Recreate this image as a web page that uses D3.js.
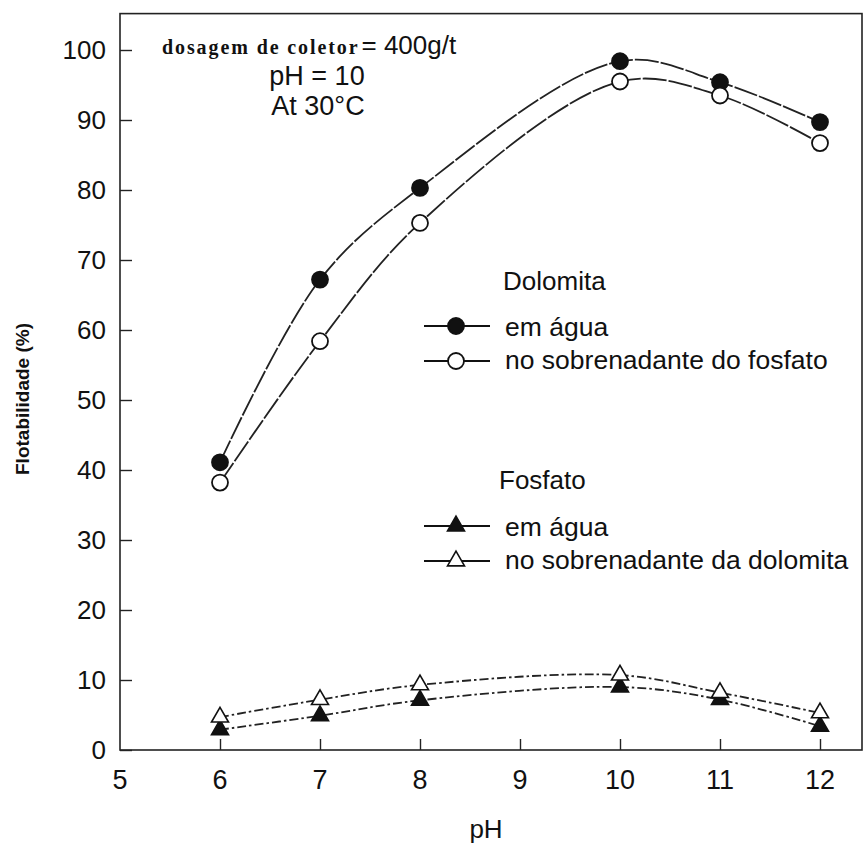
<!DOCTYPE html>
<html><head><meta charset="utf-8">
<script src="https://cdn.jsdelivr.net/npm/d3@7"></script>
<style>body{margin:0;background:#fff}svg{display:block}</style>
</head><body>
<script>
const pH = [6, 7, 8, 10, 11, 12];
const dolomitaAgua = [41.1, 67.2, 80.3, 98.4, 95.4, 89.7];
const dolomitaSobre = [38.2, 58.4, 75.3, 95.5, 93.5, 86.7];
const fosfatoAgua = [2.9, 4.9, 7.1, 9.0, 7.2, 3.4];
const fosfatoSobre = [4.7, 7.2, 9.3, 10.7, 8.2, 5.3];
const xTicks = [5, 6, 7, 8, 9, 10, 11, 12];
const yTicks = [0, 10, 20, 30, 40, 50, 60, 70, 80, 90, 100];

const W = 865, H = 847;
const svg = d3.select("body").append("svg").attr("width", W).attr("height", H);
const x = d3.scaleLinear().domain([5, 12.42]).range([120, 862]);
const y = d3.scaleLinear().domain([0, 105.2]).range([750, 13.6]);
const FONT = "'Liberation Sans', Arial, sans-serif";

// frame
svg.append("rect").attr("x", x(5)).attr("y", y(105.2)).attr("width", x(12.42) - x(5))
  .attr("height", y(0) - y(105.2)).attr("fill", "none").attr("stroke", "#222").attr("stroke-width", 1.6);

// axes (ticks inward)
const yAxis = d3.axisRight(y).tickValues(yTicks).tickSize(12).tickFormat("");
svg.append("g").attr("transform", `translate(${x(5)},0)`).call(yAxis)
  .call(g => { g.select(".domain").remove(); g.selectAll("line").attr("stroke", "#222").attr("stroke-width", 1.4); });
const xAxis = d3.axisTop(x).tickValues(xTicks.filter(v => v > 5)).tickSize(11).tickFormat("");
svg.append("g").attr("transform", `translate(0,${y(0)})`).call(xAxis)
  .call(g => { g.select(".domain").remove(); g.selectAll("line").attr("stroke", "#222").attr("stroke-width", 1.4); });

// tick labels
svg.append("g").selectAll("text").data(yTicks).join("text")
  .attr("x", 106).attr("y", d => y(d)).attr("dy", "0.36em").attr("text-anchor", "end")
  .attr("font-family", FONT).attr("font-size", 26).attr("fill", "#111").text(d => d);
svg.append("g").selectAll("text").data(xTicks).join("text")
  .attr("x", d => x(d)).attr("y", 789).attr("text-anchor", "middle")
  .attr("font-family", FONT).attr("font-size", 27).attr("fill", "#111").text(d => d);

// axis titles
svg.append("text").attr("x", 486).attr("y", 838).attr("text-anchor", "middle")
  .attr("font-family", FONT).attr("font-size", 26).attr("fill", "#111").text("pH");
svg.append("text").attr("transform", "translate(29,399) rotate(-90)").attr("text-anchor", "middle")
  .attr("font-family", "'Liberation Sans Narrow', 'Liberation Sans', Arial, sans-serif")
  .attr("font-size", 19).attr("font-weight", "bold").attr("fill", "#111")
  .text("Flotabilidade (%)");

// annotation
const ann = svg.append("text").attr("x", 162).attr("y", 54).attr("fill", "#111");
ann.append("tspan").attr("font-family", "'Liberation Serif', serif").attr("font-weight", "bold")
  .attr("font-size", 20).attr("letter-spacing", 1.9).text("dosagem de coletor");
ann.append("tspan").attr("font-family", FONT).attr("font-size", 26).attr("dx", 2).text("= 400g/t");
svg.append("text").attr("x", 317).attr("y", 85).attr("text-anchor", "middle")
  .attr("font-family", FONT).attr("font-size", 27).attr("fill", "#111").text("pH = 10");
svg.append("text").attr("x", 318).attr("y", 115).attr("text-anchor", "middle")
  .attr("font-family", FONT).attr("font-size", 27).attr("fill", "#111").text("At 30°C");

// lines
const line = d3.line().x(d => x(d[0])).y(d => y(d[1])).curve(d3.curveCatmullRom.alpha(0.5));
const series = [
  { v: dolomitaAgua, dash: "24,2", m: "circle", fill: "#111" },
  { v: dolomitaSobre, dash: "24,2", m: "circle", fill: "#fff" },
  { v: fosfatoAgua, dash: "9,3,2.5,3", m: "tri", fill: "#111" },
  { v: fosfatoSobre, dash: "9,3,2.5,3", m: "tri", fill: "#fff" }
];
series.forEach(s => {
  const pts = pH.map((p, i) => [p, s.v[i]]);
  svg.append("path").attr("d", line(pts)).attr("fill", "none").attr("stroke", "#222")
    .attr("stroke-width", 1.8).attr("stroke-dasharray", s.dash);
});
const triSym = d3.symbol().type(d3.symbolTriangle).size(125);
series.forEach(s => {
  const g = svg.append("g");
  pH.forEach((p, i) => {
    if (s.m === "circle") {
      g.append("circle").attr("cx", x(p)).attr("cy", y(s.v[i])).attr("r", 8)
        .attr("fill", s.fill).attr("stroke", "#111").attr("stroke-width", 1.8);
    } else {
      g.append("path").attr("d", triSym).attr("transform", `translate(${x(p)},${y(s.v[i])})`)
        .attr("fill", s.fill).attr("stroke", "#111").attr("stroke-width", 1.6);
    }
  });
});

// legend
function legendGroup(title, ty, rows, tx) {
  svg.append("text").attr("x", tx).attr("y", ty).attr("font-family", FONT).attr("font-size", 26)
    .attr("fill", "#111").text(title);
  rows.forEach(r => {
    svg.append("line").attr("x1", 424).attr("x2", 490).attr("y1", r.y).attr("y2", r.y)
      .attr("stroke", "#111").attr("stroke-width", 1.8);
    if (r.m === "circle") {
      svg.append("circle").attr("cx", 456).attr("cy", r.y).attr("r", 8).attr("fill", r.fill)
        .attr("stroke", "#111").attr("stroke-width", 1.8);
    } else {
      svg.append("path").attr("d", triSym).attr("transform", `translate(456,${r.y})`)
        .attr("fill", r.fill).attr("stroke", "#111").attr("stroke-width", 1.6);
    }
    svg.append("text").attr("x", 505).attr("y", r.baseline).attr("font-family", FONT)
      .attr("font-size", 26.5).attr("fill", "#111").text(r.label);
  });
}
legendGroup("Dolomita", 290, [
  { y: 326, baseline: 336, m: "circle", fill: "#111", label: "em água" },
  { y: 361, baseline: 369, m: "circle", fill: "#fff", label: "no sobrenadante do fosfato" }
], 503);
legendGroup("Fosfato", 489, [
  { y: 526, baseline: 536, m: "tri", fill: "#111", label: "em água" },
  { y: 561, baseline: 569, m: "tri", fill: "#fff", label: "no sobrenadante da dolomita" }
], 499);
</script>
</body></html>
